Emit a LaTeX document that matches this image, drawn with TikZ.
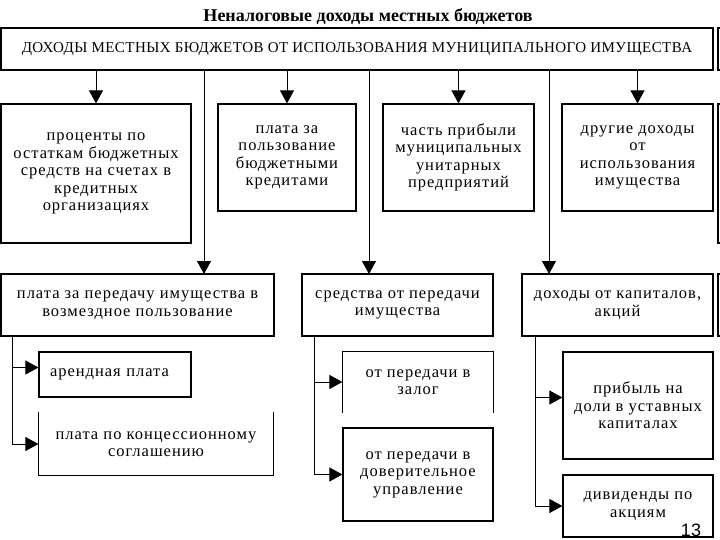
\documentclass[tikz,border=0pt]{standalone}
\usepackage{fontspec}
\setmainfont{Liberation Serif}
\newfontfamily\bodyfont[LetterSpace=6]{Liberation Serif}
\newfontfamily\capsfont[LetterSpace=3]{Liberation Serif}
\newfontfamily\numfont{Liberation Sans}
\usetikzlibrary{arrows.meta}

\tikzset{
    box/.style={draw, line width=1.2pt, inner sep=0pt, align=center,
        font=\bodyfont\fontsize{16.5}{17.5}\selectfont},
    open/.style={box, draw=none},
    rim/.style={line width=1.2pt},
    arr/.style={-{Triangle[length=13pt,width=14pt]}, line width=0.9pt}
}

\begin{document}
\begin{tikzpicture}[x=1pt,y=-1pt]
        \clip (0,0) rectangle (720,540);
        \fill[white] (0,0) rectangle (720,540);

        \node[anchor=base, font=\bfseries\fontsize{18}{20}\selectfont] (title) at (368,22) {Неналоговые доходы местных бюджетов};
        \node[box, minimum width=712, minimum height=42, font=\capsfont\fontsize{15}{17}\selectfont] (0) at (357,49) {ДОХОДЫ МЕСТНЫХ БЮДЖЕТОВ ОТ ИСПОЛЬЗОВАНИЯ МУНИЦИПАЛЬНОГО ИМУЩЕСТВА};

        % first row
        \node[box, minimum width=190, minimum height=139] (1) at (96,173.5) {проценты по\\остаткам бюджетных\\средств на счетах в\\кредитных\\организациях};
        \node[box, minimum width=138, minimum height=107] (2) at (287,157.5) {плата за\\пользование\\бюджетными\\кредитами};
        \node[box, minimum width=151, minimum height=107] (3) at (458.5,157.5) {часть прибыли\\муниципальных\\унитарных\\предприятий};
        \node[box, minimum width=151, minimum height=107] (4) at (637.5,157.5) {другие доходы\\от\\использования\\имущества};

        % second row
        \node[box, minimum width=273, minimum height=62] (5) at (137.5,305) {плата за передачу имущества в\\возмездное пользование};
        \node[box, minimum width=191, minimum height=62] (6) at (397.5,305) {средства от передачи\\имущества};
        \node[box, minimum width=191, minimum height=62] (7) at (617.5,305) {доходы от капиталов,\\акций};

        % third row
        \node[box, minimum width=152, minimum height=45, text width=130, align=left] (5a) at (115,374.5) {арендная плата};
        \node[open, minimum width=234, minimum height=62] (5b) at (156,444) {плата по концессионному\\соглашению};
        \node[open, minimum width=150, minimum height=60] (6a) at (418,382) {от передачи в\\залог};
        \node[box, minimum width=150, minimum height=93] (6b) at (418,474.5) {от передачи в\\доверительное\\управление};
        \node[box, minimum width=150, minimum height=107] (7a) at (638,405.5) {прибыль на\\доли в уставных\\капиталах};
        \node[box, minimum width=150, minimum height=62] (7b) at (638,506) {дивиденды по\\акциям};

        \node[anchor=base, font=\numfont\fontsize{18}{20}\selectfont] (page) at (691,536) {13};

        % boxes drawn with one side left out
        \draw[rim] (5b.north west) |- (5b.south east) -- (5b.north east);
        \draw[rim] (6a.south west) |- (6a.north east) -- (6a.south east);

        % boxes cut off at the right edge
        \draw[rim] (718,28) rectangle (740,70);
        \draw[rim] (718,104) rectangle (740,243);
        \draw[rim] (718,274) rectangle (740,336);

        \coordinate (5in) at (204,274);
        \coordinate (6in) at (369,274);
        \coordinate (7in) at (549,274);
        \coordinate (5v) at (12,336);
        \coordinate (6v) at (314,336);
        \coordinate (7v) at (535,336);

        \path[arr]
        (0.south -| 1.north) edge (1.north)
        (0.south -| 2.north) edge (2.north)
        (0.south -| 3.north) edge (3.north)
        (0.south -| 4.north) edge (4.north)
        (0.south -| 5in) edge (5in)
        (0.south -| 6in) edge (6in)
        (0.south -| 7in) edge (7in)
        ;

        \draw[arr] (5.south -| 5v) |- ([yshift=7pt]5a.west);
        \draw[arr] (5.south -| 5v) |- (5b.west);
        \draw[arr] (6.south -| 6v) |- (6a.west);
        \draw[arr] (6.south -| 6v) |- (6b.west);
        \draw[arr] (7.south -| 7v) |- ([yshift=8pt]7a.west);
        \draw[arr] (7.south -| 7v) |- (7b.west);
    \end{tikzpicture}
\end{document}
